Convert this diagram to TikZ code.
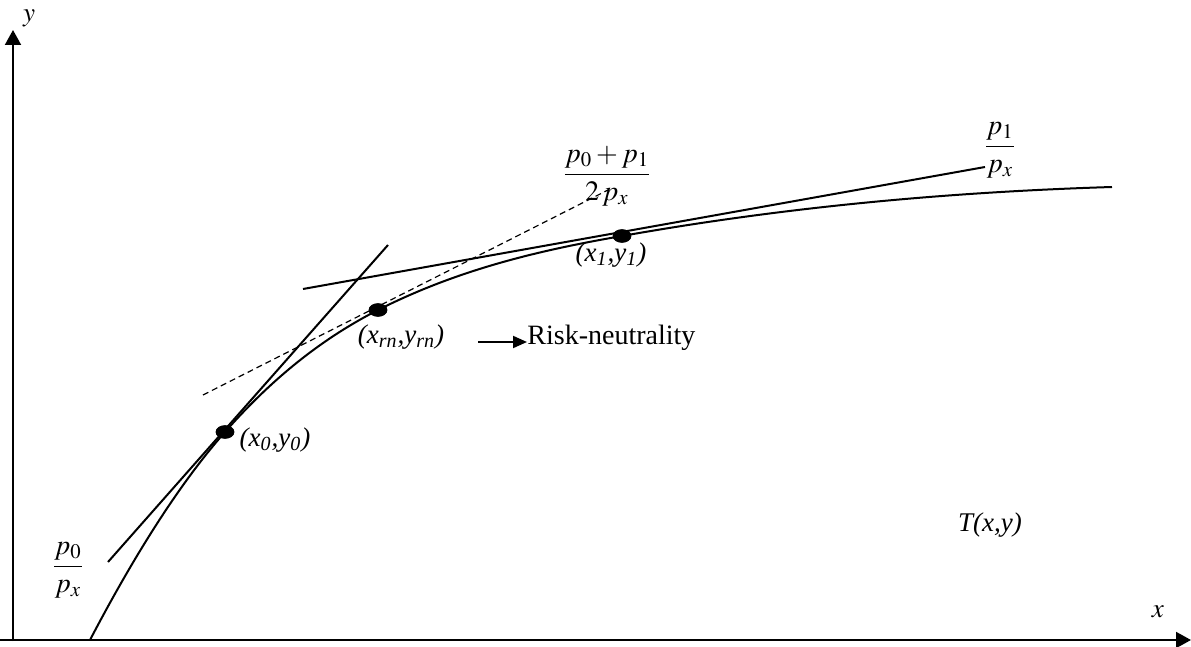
\documentclass[tikz,border=0pt]{standalone}
\usepackage{mathptmx}
\usepackage[no-math]{fontspec}
\setmainfont{Liberation Serif}
\usepackage{tikz}
\usetikzlibrary{arrows.meta,positioning,calc}

\begin{document}
\begin{tikzpicture}[x=0.5pt, y=-0.5pt, font=\fontsize{14}{16}\selectfont,
    curve/.style={line width=1pt},
    dot/.style={fill=black},
    lbl/.style={font=\fontsize{13.5}{16}\selectfont\itshape, inner sep=1pt}]
    \useasboundingbox (0,0) rectangle (1191,647);

    % Axes
    \coordinate (O) at (13,640);
    \draw[line width=1pt, -{Triangle[length=7.5pt,width=8pt]}] (13,641) -- (13,30);
    \node[lbl, inner sep=0pt] (ylab) at (29,18) {$y$};
    \draw[line width=1pt, -{Triangle[length=7.5pt,width=8pt]}] (0,640) -- (1191,640);
    \node[lbl] (xlab) at (1158,612) {$x$};

    % Tangency points
    \coordinate (X0) at (225,432);
    \coordinate (XRN) at (378,310);
    \coordinate (X1) at (622,236);

    % Frontier T(x,y)
    \draw[curve] (90,640) .. controls (135,554) and (180,483) .. (X0)
        .. controls (276,374) and (327,336) .. (XRN)
        .. controls (459,269) and (541,250) .. (X1)
        .. controls (785,207) and (949,192) .. (1112,187);

    % Price lines
    \draw[curve] (108,562) -- (388,245);
    \draw[curve] (303,289) -- (985,167);
    \draw[line width=0.6pt, dash pattern=on 3pt off 2pt] (203,395) -- (608,190);

    % Points
    \filldraw[dot] (X0) ellipse (4.5pt and 3.2pt);
    \filldraw[dot] (XRN) ellipse (4.5pt and 3.2pt);
    \filldraw[dot] (X1) ellipse (4.5pt and 3.2pt);
    \node[lbl] (lx0) at (275,440) {(x\textsubscript{0},y\textsubscript{0})};
    \node[lbl] (lxrn) at (401,337) {(x\textsubscript{rn},y\textsubscript{rn})};
    \node[lbl] (lx1) at (611,255) {(x\textsubscript{1},y\textsubscript{1})};

    % Slopes
    \node (p0) at (68,570) {$\displaystyle\frac{p_0}{p_x}$};
    \node (pm) at (607,176) {$\displaystyle\frac{p_0+p_1}{2\,p_x}$};
    \node (p1) at (1000,150) {$\displaystyle\frac{p_1}{p_x}$};

    % Risk-neutrality
    \node[anchor=west, inner sep=0pt] (rn) at (527,338) {Risk-neutrality};
    \coordinate (rnS) at (478,342);
    \draw[line width=1pt, -{Triangle[length=7pt,width=6pt]}] (rnS) -- (rn.west |- rnS);

    \node[lbl] (T) at (990,525) {T(x,y)};
\end{tikzpicture}
\end{document}
